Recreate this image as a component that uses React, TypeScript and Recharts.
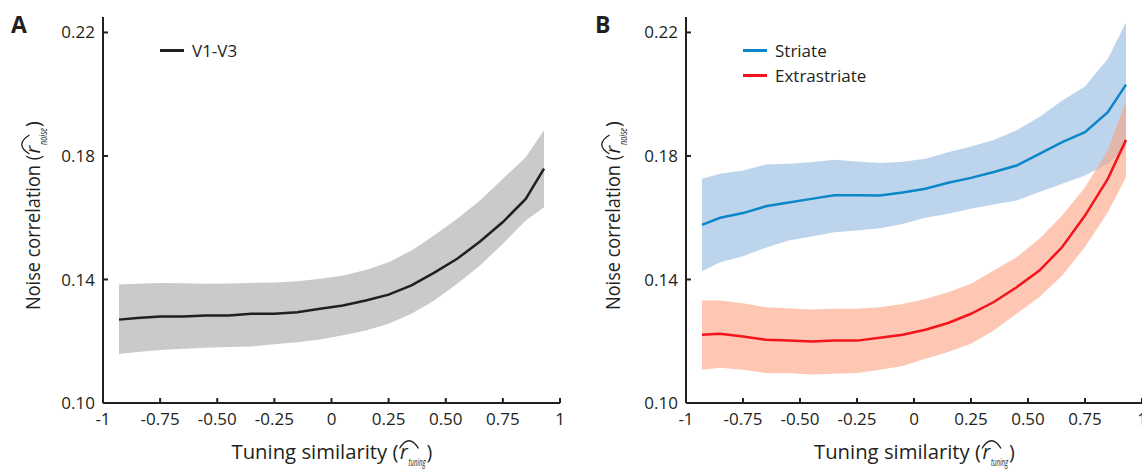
import React from 'react';
import { ComposedChart, Line, Area, XAxis, YAxis, Legend } from 'recharts';

const INK = '#231f20';
const FONT = '"Open Sans", "Liberation Sans", sans-serif';

// ---- data ----
const xValues = [-0.93, -0.85, -0.75, -0.65, -0.55, -0.45, -0.35, -0.25, -0.15, -0.05, 0.05, 0.15, 0.25, 0.35, 0.45, 0.55, 0.65, 0.75, 0.85, 0.93];

const v1v3Mean = [0.1270, 0.1275, 0.1280, 0.1280, 0.1283, 0.1283, 0.1289, 0.1289, 0.1294, 0.1305, 0.1316, 0.1332, 0.1351, 0.1381, 0.1422, 0.1467, 0.1523, 0.1586, 0.1661, 0.1759];
const v1v3High = [0.1384, 0.1386, 0.1389, 0.1388, 0.1386, 0.1387, 0.1389, 0.1390, 0.1394, 0.1402, 0.1413, 0.1431, 0.1456, 0.1494, 0.1543, 0.1597, 0.1656, 0.1726, 0.1796, 0.1883];
const v1v3Low = [0.1159, 0.1165, 0.1172, 0.1176, 0.1179, 0.1181, 0.1183, 0.1190, 0.1197, 0.1206, 0.1219, 0.1235, 0.1257, 0.1289, 0.1332, 0.1386, 0.1445, 0.1516, 0.1591, 0.1634];

const striateMean = [0.1577, 0.1600, 0.1615, 0.1637, 0.1649, 0.1661, 0.1673, 0.1673, 0.1672, 0.1682, 0.1694, 0.1713, 0.1729, 0.1748, 0.1769, 0.1807, 0.1845, 0.1877, 0.1942, 0.2031];
const striateHigh = [0.1726, 0.1742, 0.1753, 0.1772, 0.1775, 0.1780, 0.1788, 0.1782, 0.1777, 0.1781, 0.1791, 0.1812, 0.1831, 0.1852, 0.1883, 0.1926, 0.1980, 0.2025, 0.2115, 0.2233];
const striateLow = [0.1427, 0.1456, 0.1475, 0.1503, 0.1526, 0.1539, 0.1553, 0.1559, 0.1566, 0.1580, 0.1600, 0.1613, 0.1629, 0.1643, 0.1656, 0.1683, 0.1710, 0.1737, 0.1775, 0.1829];

const extraMean = [0.1221, 0.1224, 0.1215, 0.1205, 0.1202, 0.1199, 0.1202, 0.1202, 0.1211, 0.1221, 0.1237, 0.1259, 0.1289, 0.1327, 0.1375, 0.1429, 0.1505, 0.1607, 0.1726, 0.1852];
const extraHigh = [0.1332, 0.1332, 0.1323, 0.1310, 0.1307, 0.1303, 0.1305, 0.1305, 0.1310, 0.1321, 0.1337, 0.1359, 0.1386, 0.1429, 0.1472, 0.1532, 0.1607, 0.1699, 0.1818, 0.1980];
const extraLow = [0.1108, 0.1114, 0.1108, 0.1097, 0.1097, 0.1092, 0.1095, 0.1097, 0.1108, 0.1120, 0.1143, 0.1165, 0.1192, 0.1235, 0.1289, 0.1343, 0.1413, 0.1505, 0.1618, 0.1731];

const legendOrder = ['V1-V3', 'Striate', 'Extrastriate'];

const xTicks = [-1, -0.75, -0.5, -0.25, 0, 0.25, 0.5, 0.75, 1];
const xTickLabels = ['-1', '-0.75', '-0.50', '-0.25', '0', '0.25', '0.50', '0.75', '1'];
const yTicks = [0.1, 0.14, 0.18, 0.22];
const yTickLabels = ['0.10', '0.14', '0.18', '0.22'];
const yDomain: [number, number] = [0.1, 0.225];

const dataA = xValues.map((x, i) => ({ x, mean: v1v3Mean[i], band: [v1v3Low[i], v1v3High[i]] }));
const dataB = xValues.map((x, i) => ({
  x,
  striate: striateMean[i],
  striateBand: [striateLow[i], striateHigh[i]],
  extra: extraMean[i],
  extraBand: [extraLow[i], extraHigh[i]],
}));

const fmtX = (v: number) => {
  const i = xTicks.findIndex((t) => Math.abs(t - v) < 1e-9);
  return i >= 0 ? xTickLabels[i] : String(v);
};
const fmtY = (v: number) => {
  const i = yTicks.findIndex((t) => Math.abs(t - v) < 1e-9);
  return i >= 0 ? yTickLabels[i] : String(v);
};

function MathTitle(props: { cx: number; cy: number; rotate: number; offset: number; prefix: string; prefixLen: number; sub: string }) {
  const { cx, cy, rotate, offset, prefix, prefixLen, sub } = props;
  const o = offset;
  return (
    <g transform={`translate(${cx},${cy}) rotate(${rotate})`} fill={INK} fontFamily={FONT}>
      <text x={o} y={0} textAnchor="end" fontSize={19.5} textLength={prefixLen} lengthAdjust="spacingAndGlyphs">{prefix}</text>
      <text x={o + 1.5} y={0} fontSize={19.5} fontStyle="italic">r</text>
      <text x={o + 10} y={7} fontSize={10.5} fontStyle="italic" textLength={17} lengthAdjust="spacingAndGlyphs">{sub}</text>
      <text x={o + 28} y={0} fontSize={19.5}>)</text>
      <path d={`M${o + 1} -10.5 Q ${o + 10.5} -26 ${o + 20} -10.5`} fill="none" stroke={INK} strokeWidth={1.3} />
    </g>
  );
}

const XTitle = (p: any) => {
  const vb = p.viewBox || { x: 0, y: 0, width: 0, height: 0 };
  return <MathTitle cx={vb.x + vb.width / 2} cy={vb.y + 56} rotate={0} offset={67} prefix="Tuning similarity (" prefixLen={167} sub="tuning" />;
};
const YTitle = (p: any) => {
  const vb = p.viewBox || { x: 0, y: 0, width: 0, height: 0 };
  return <MathTitle cx={vb.x + 40} cy={vb.y + vb.height / 2} rotate={-90} offset={55} prefix="Noise correlation (" prefixLen={155} sub="noise" />;
};

const renderLegend = (props: any) => {
  const items = (props.payload || [])
    .filter((p: any) => p.type !== 'none')
    .slice()
    .sort((a: any, b: any) => legendOrder.indexOf(a.value) - legendOrder.indexOf(b.value));
  return (
    <div style={{ fontFamily: FONT, fontSize: 17, color: INK }}>
      {items.map((p: any) => (
        <div key={p.value} style={{ display: 'flex', alignItems: 'center', height: 25, whiteSpace: 'nowrap' }}>
          <span style={{ display: 'inline-block', width: 24, height: 3, background: p.color, marginRight: 8 }} />
          <span>{p.value}</span>
        </div>
      ))}
    </div>
  );
};

const axisCommon = {
  axisLine: { stroke: INK, strokeWidth: 2 },
  tickLine: { stroke: INK, strokeWidth: 2 },
  tick: { fill: INK, fontSize: 17, fontFamily: FONT },
  tickSize: -5,
  interval: 0 as const,
};

const panelLetter = (left: number, text: string) => (
  <div
    style={{
      position: 'absolute',
      left,
      top: 13,
      fontFamily: FONT,
      fontWeight: 700,
      fontSize: 23,
      lineHeight: '23px',
      color: INK,
    }}
  >
    {text}
  </div>
);

export default function App() {
  return (
    <div style={{ position: 'absolute', left: 0, top: 0, width: 1142, height: 472, overflow: 'hidden', background: '#fff' }}>
      <div style={{ position: 'absolute', left: 0, top: 0 }}>
        <ComposedChart width={580} height={472} data={dataA} margin={{ top: 17, right: 20, left: 0, bottom: 9 }}>
          <XAxis
            type="number"
            dataKey="x"
            domain={[-1, 1]}
            ticks={xTicks}
            tickFormatter={fmtX}
            height={60}
            tickMargin={15}
            label={<XTitle />}
            {...axisCommon}
          />
          <YAxis
            type="number"
            domain={yDomain}
            ticks={yTicks}
            tickFormatter={fmtY}
            width={103}
            tickMargin={13}
            label={<YTitle />}
            {...axisCommon}
          />
          <Area type="linear" dataKey="band" stroke="none" fill="#c8cacb" fillOpacity={1} isAnimationActive={false} legendType="none" activeDot={false} />
          <Line type="linear" dataKey="mean" name="V1-V3" stroke={INK} strokeWidth={2.5} dot={false} isAnimationActive={false} />
          <Legend
            content={renderLegend}
            layout="vertical"
            verticalAlign="middle"
            align="center"
            wrapperStyle={{ left: 160, top: 37.5, width: 'auto' }}
          />
        </ComposedChart>
      </div>
      <div style={{ position: 'absolute', left: 580, top: 0 }}>
        <ComposedChart width={580} height={472} data={dataB} margin={{ top: 17, right: 18, left: 0, bottom: 9 }}>
          <XAxis
            type="number"
            dataKey="x"
            domain={[-1, 1]}
            ticks={xTicks}
            tickFormatter={fmtX}
            height={60}
            tickMargin={15}
            label={<XTitle />}
            {...axisCommon}
          />
          <YAxis
            type="number"
            domain={yDomain}
            ticks={yTicks}
            tickFormatter={fmtY}
            width={106}
            tickMargin={13}
            label={<YTitle />}
            {...axisCommon}
          />
          <Area type="linear" dataKey="striateBand" stroke="none" fill="#bdd5ec" fillOpacity={1} isAnimationActive={false} legendType="none" activeDot={false} />
          <Area type="linear" dataKey="extraBand" stroke="none" fill="#fca280" fillOpacity={0.6} isAnimationActive={false} legendType="none" activeDot={false} />
          <Line type="linear" dataKey="striate" name="Striate" stroke="#0b87c9" strokeWidth={2.5} dot={false} isAnimationActive={false} />
          <Line type="linear" dataKey="extra" name="Extrastriate" stroke="#f4141c" strokeWidth={2.5} dot={false} isAnimationActive={false} />
          <Legend
            content={renderLegend}
            layout="vertical"
            verticalAlign="middle"
            align="center"
            wrapperStyle={{ left: 163, top: 37.5, width: 'auto' }}
          />
        </ComposedChart>
      </div>
      {panelLetter(11, 'A')}
      {panelLetter(595, 'B')}
    </div>
  );
}
